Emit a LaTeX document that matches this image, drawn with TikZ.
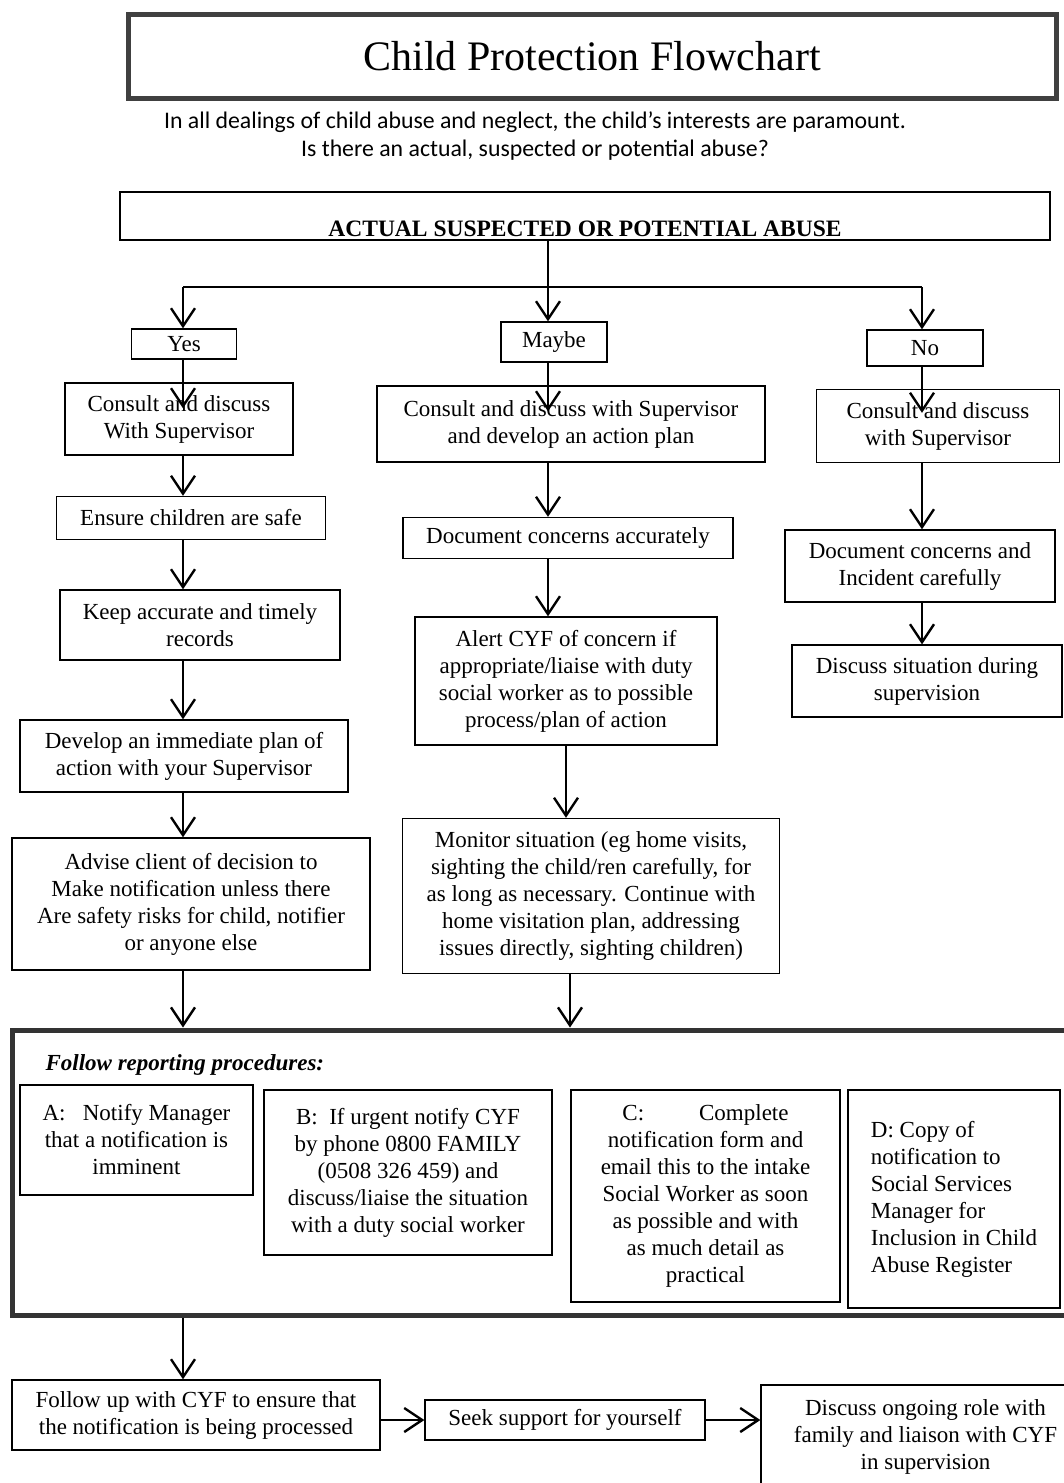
\documentclass[tikz,border=0pt]{standalone}
\usepackage{fontspec}
\setmainfont{Liberation Serif}
\newfontfamily\subfont{Carlito}
\usetikzlibrary{arrows.meta}

\begin{document}
\begin{tikzpicture}[x=1pt,y=-1pt,
 bx/.style 2 args={draw,line width=1.3pt,inner sep=0pt,align=center,minimum width=#1,minimum height=#2,font=\fontsize{23}{27}\selectfont},
 ar/.style={line width=2.4pt,-{Straight Barb[length=18pt,width=24pt]}}]
\useasboundingbox[fill=white](0,0)rectangle(1064,1483);
\node[draw=black!75,line width=5pt,minimum width=928,minimum height=84](ttl)at(592,56){\fontsize{42}{48}\selectfont Child Protection Flowchart};
\node[font=\subfont\fontsize{23.8}{28}\selectfont,align=center](sub)at(535,136){In all dealings of child abuse and neglect, the child’s interests are paramount.\\Is there an actual, suspected or potential abuse?};
\node[bx={930}{48},font=\bfseries\fontsize{23.5}{27}\selectfont,text height=40,text depth=0](abuse)at(585,216){ACTUAL SUSPECTED OR POTENTIAL ABUSE};
\coordinate(sp)at(548,287);\coordinate(bl)at(183,287);\coordinate(br)at(922,287);
\node[bx={105}{30}](yes)at(184,344){Yes};
\node[bx={106}{40}](maybe)at(554,342){Maybe};
\node[bx={116}{36}](no)at(925,348){No};
\node[bx={228}{72}](c1)at(179,419){Consult and discuss\\With Supervisor};
\node[bx={269}{43}](c2)at(191,518){Ensure children are safe};
\node[bx={280}{70}](c3)at(200,625){Keep accurate and timely\\records};
\node[bx={328}{72}](c4)at(184,756){Develop an immediate plan of\\action with your Supervisor};
\node[bx={358}{132}](c5)at(191,904){Advise client of decision to\\Make notification unless there\\Are safety risks for child, notifier\\or anyone else};
\node[bx={388}{76}](m1)at(571,424){Consult and discuss with Supervisor\\and develop an action plan};
\node[bx={330}{41}](m2)at(568,538){Document concerns accurately};
\node[bx={302}{128}](m3)at(566,681){Alert CYF of concern if\\appropriate/liaise with duty\\social worker as to possible\\process/plan of action};
\node[bx={377}{155}](m4)at(591,896){Monitor situation (eg home visits,\\sighting the child/ren carefully, for\\as long as necessary. Continue with\\home visitation plan, addressing\\issues directly, sighting children)};
\node[bx={243}{73}](n1)at(938,426){Consult and discuss\\with Supervisor};
\node[bx={270}{72}](n2)at(920,566){Document concerns and\\Incident carefully};
\node[bx={270}{72}](n3)at(927,681){Discuss situation during\\supervision};
\node[draw=black!80,line width=5pt,minimum width=1063,minimum height=285,inner sep=0pt](rep)at(543.5,1172.5){};
\node[anchor=west,font=\bfseries\itshape\fontsize{23}{27}\selectfont](frp)at(42,1065){Follow reporting procedures:};
\node[bx={233}{110}](pa)at(136.5,1140){A:\ \ \ Notify Manager\\that a notification is\\imminent};
\node[bx={288}{165}](pb)at(408,1172.5){B:\ \ If urgent notify CYF\\by phone 0800 FAMILY\\(0508 326 459) and\\discuss/liaise the situation\\with a duty social worker};
\node[bx={269}{212}](pc)at(705.5,1196){C:\hspace{55pt}Complete\\notification form and\\email this to the intake\\Social Worker as soon\\as possible and with\\as much detail as\\practical};
\node[bx={212}{218},align=left](pd)at(954,1199){D: Copy of\\notification to\\Social Services\\Manager for\\Inclusion in Child\\Abuse Register};
\node[bx={368}{70}](f1)at(196,1415){Follow up with CYF to ensure that\\the notification is being processed};
\node[bx={280}{40}](f2)at(565,1420){Seek support for yourself};
\node[bx={329}{104}](f3)at(925.5,1437){Discuss ongoing role with\\family and liaison with CYF\\in supervision};
\draw[line width=2.4pt](abuse.south -| sp)--(sp);
\draw[line width=2.8pt](bl)--(br);
\draw[ar](bl)--(bl |- yes.north);
\draw[ar](sp)--(sp |- maybe.north);
\draw[ar](br)--(br |- no.north);
\draw[ar,shorten >=-26pt](yes.south -| bl)--(c1.north -| bl);
\draw[ar,shorten >=-26pt](maybe.south -| sp)--(m1.north -| sp);
\draw[ar,shorten >=-24pt](no.south -| br)--(n1.north -| br);
\foreach\a/\b in{c1/c2,c2/c3,c3/c4,c4/c5,c5/rep}{\draw[ar](\a.south -| bl)--(\b.north -| bl);}
\foreach\a/\b in{m1/m2,m2/m3}{\draw[ar](\a.south -| sp)--(\b.north -| sp);}
\foreach\a/\b in{n1/n2,n2/n3}{\draw[ar](\a.south -| br)--(\b.north -| br);}
\draw[ar](m3.south)--(m3.south |- m4.north);
\draw[ar]([xshift=-21pt]m4.south)--([xshift=-21pt]m4.south |- rep.north);
\draw[ar](rep.south -| bl)--(f1.north -| bl);
\draw[ar](f1.east |- f2)--(f2.west);
\draw[ar](f2.east)--(f2.east -| f3.west);
\end{tikzpicture}
\end{document}
